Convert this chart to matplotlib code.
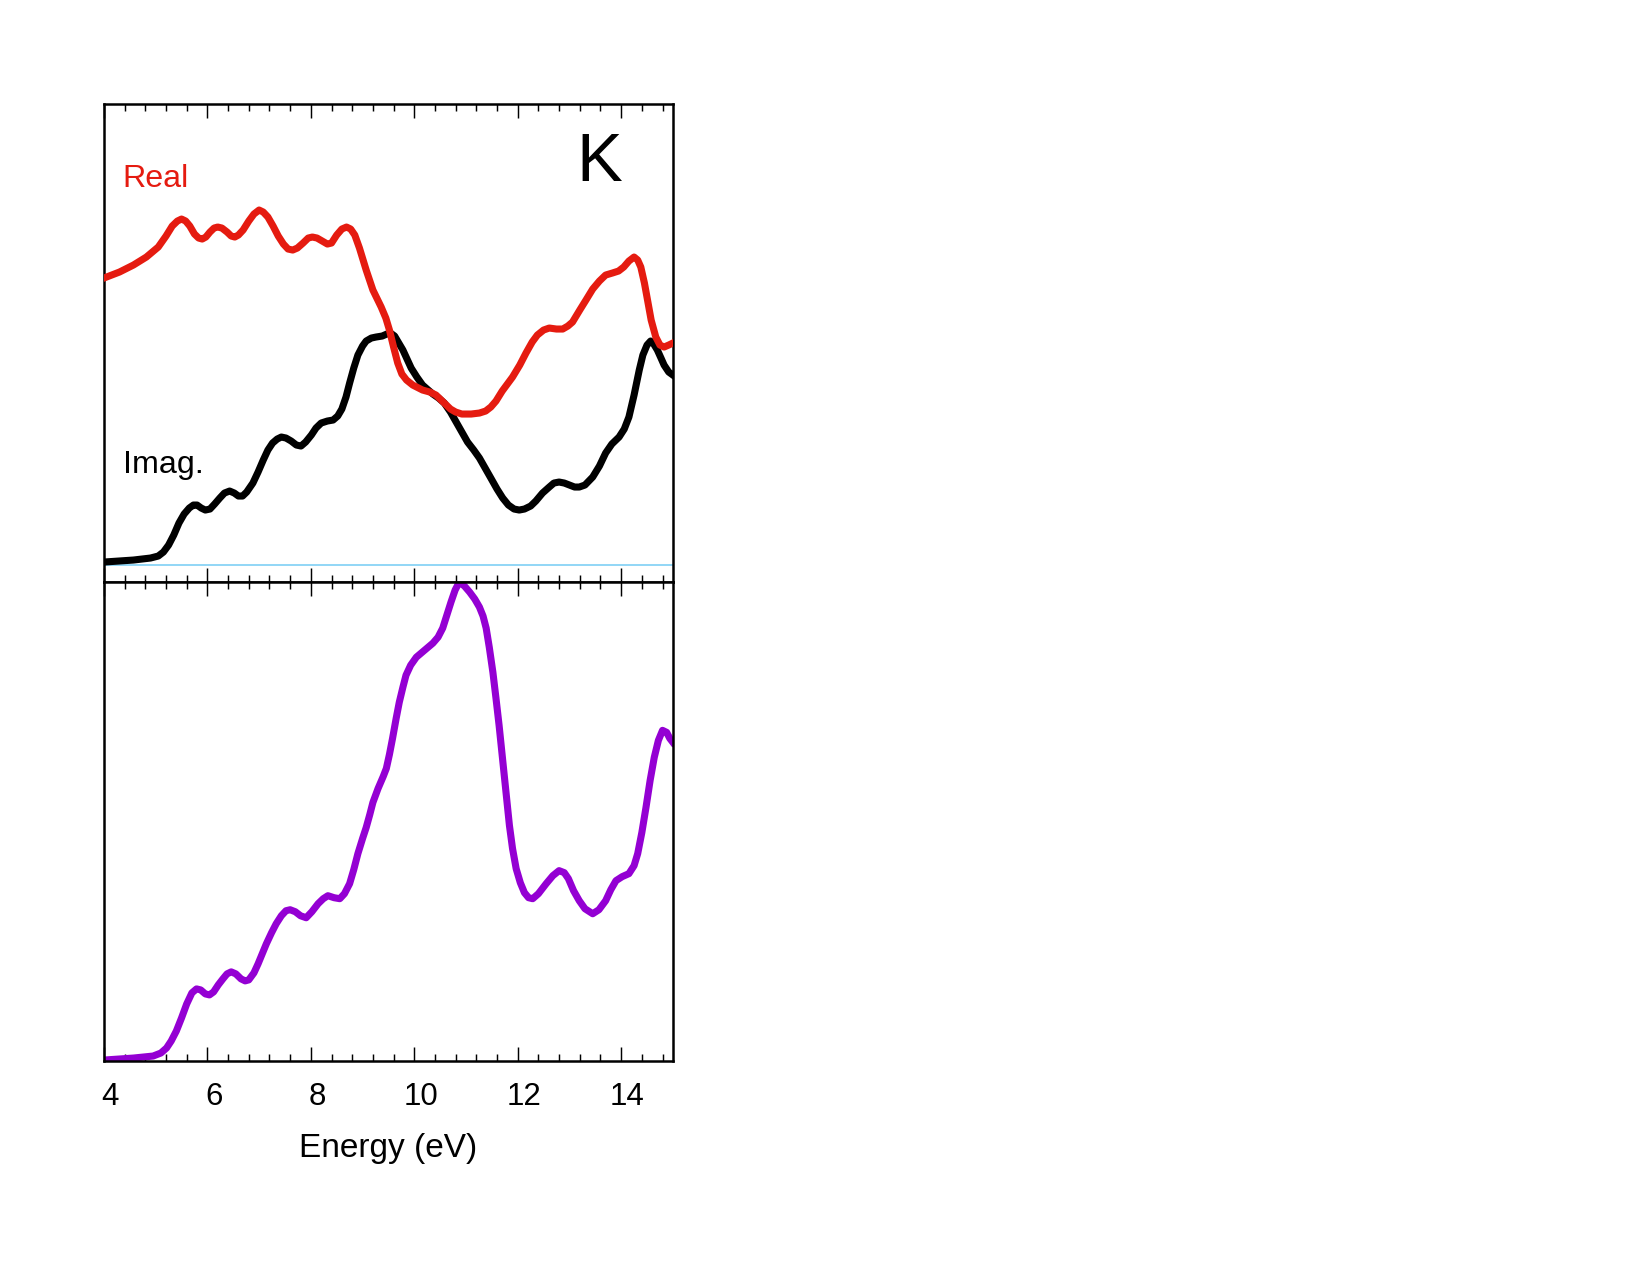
import matplotlib
matplotlib.use('Agg')
import matplotlib.pyplot as plt
from matplotlib.ticker import MultipleLocator
from matplotlib.transforms import ScaledTranslation

plt.rcParams['font.family'] = ['Liberation Sans', 'DejaVu Sans']

# curves (arbitrary units, energy in eV)
real_e = [4.0, 4.3, 4.57, 4.82, 5.05, 5.2, 5.32, 5.42, 5.50, 5.58, 5.66, 5.75, 5.83, 5.90,
          5.97, 6.05, 6.13, 6.20, 6.28, 6.38, 6.46, 6.53, 6.60, 6.69, 6.80, 6.90, 7.0, 7.08,
          7.17, 7.27, 7.37, 7.47, 7.56, 7.65, 7.74, 7.85, 7.95, 8.03, 8.12, 8.22, 8.32, 8.40,
          8.50, 8.60, 8.69, 8.77, 8.85, 8.94, 9.07, 9.20, 9.36, 9.45, 9.52, 9.60, 9.68, 9.76,
          9.85, 9.97, 10.16, 10.30, 10.42, 10.58, 10.70, 10.80, 10.92, 11.1, 11.26, 11.38,
          11.48, 11.58, 11.70, 11.90, 12.04, 12.16, 12.28, 12.38, 12.50, 12.61, 12.75, 12.87,
          12.97, 13.06, 13.2, 13.32, 13.45, 13.58, 13.70, 13.83, 13.95, 14.05, 14.15, 14.25,
          14.32, 14.38, 14.45, 14.51, 14.58, 14.67, 14.75, 14.83, 14.92, 15.0]
real_v = [2.87, 2.93, 3.00, 3.08, 3.18, 3.29, 3.39, 3.44, 3.46, 3.44, 3.39, 3.31, 3.27, 3.26,
          3.28, 3.33, 3.37, 3.38, 3.37, 3.33, 3.29, 3.28, 3.30, 3.35, 3.44, 3.51, 3.55, 3.53,
          3.48, 3.39, 3.29, 3.21, 3.16, 3.15, 3.17, 3.22, 3.27, 3.28, 3.27, 3.24, 3.21, 3.22,
          3.30, 3.36, 3.38, 3.36, 3.30, 3.17, 2.95, 2.75, 2.58, 2.47, 2.35, 2.18, 2.02, 1.91,
          1.85, 1.80, 1.75, 1.73, 1.70, 1.62, 1.56, 1.53, 1.51, 1.51, 1.52, 1.54,
          1.58, 1.64, 1.74, 1.88, 2.00, 2.12, 2.23, 2.30, 2.35, 2.37, 2.36, 2.36,
          2.39, 2.43, 2.55, 2.65, 2.76, 2.84, 2.90, 2.92, 2.94, 2.98, 3.04, 3.08,
          3.05, 2.98, 2.82, 2.65, 2.45, 2.28, 2.20, 2.18, 2.20, 2.22]

imag_e = [4.0, 4.57, 4.9, 5.05, 5.15, 5.25, 5.35, 5.45, 5.55, 5.65, 5.73, 5.80, 5.88, 5.96,
          6.05, 6.14, 6.24, 6.33, 6.43, 6.52, 6.60, 6.68, 6.76, 6.88, 6.98, 7.08, 7.17, 7.26,
          7.35, 7.43, 7.52, 7.62, 7.72, 7.81, 7.90, 8.01, 8.10, 8.20, 8.32, 8.43, 8.52, 8.60,
          8.68, 8.75, 8.83, 8.91, 9.0, 9.07, 9.17, 9.26, 9.38, 9.47, 9.54, 9.62, 9.70, 9.78,
          9.86, 9.94, 10.05, 10.16, 10.27, 10.36, 10.47, 10.58, 10.70, 10.81, 10.92, 11.03,
          11.15, 11.26, 11.37, 11.48, 11.60, 11.71, 11.82, 11.93, 12.03, 12.13, 12.25, 12.35,
          12.48, 12.61, 12.70, 12.80, 12.90, 13.0, 13.1, 13.19, 13.30, 13.45, 13.58, 13.70,
          13.82, 13.96, 14.06, 14.15, 14.25, 14.35, 14.42, 14.50, 14.57, 14.63, 14.70, 14.77,
          14.83, 14.92, 15.0]
imag_v = [0.03, 0.05, 0.07, 0.09, 0.13, 0.20, 0.30, 0.42, 0.51, 0.57, 0.60, 0.60, 0.57, 0.55,
          0.56, 0.61, 0.67, 0.72, 0.74, 0.72, 0.69, 0.69, 0.73, 0.82, 0.93, 1.05, 1.15, 1.22,
          1.26, 1.28, 1.27, 1.24, 1.20, 1.19, 1.23, 1.30, 1.37, 1.42, 1.44, 1.45, 1.49, 1.56,
          1.68, 1.82, 1.97, 2.10, 2.19, 2.24, 2.27, 2.28, 2.29, 2.31, 2.32, 2.29, 2.22, 2.15,
          2.06, 1.97, 1.88, 1.80, 1.75, 1.71, 1.67, 1.62, 1.53, 1.43, 1.33, 1.23,
          1.15, 1.07, 0.97, 0.87, 0.76, 0.67, 0.60, 0.56, 0.55, 0.56, 0.59, 0.64,
          0.72, 0.78, 0.82, 0.83, 0.82, 0.80, 0.78, 0.78, 0.80, 0.88, 0.99, 1.12,
          1.21, 1.28, 1.36, 1.48, 1.70, 1.95, 2.10, 2.20, 2.24, 2.21, 2.15, 2.07,
          2.00, 1.93, 1.90]

loss_e = [4.0, 4.57, 4.95, 5.10, 5.21, 5.30, 5.40, 5.50, 5.60, 5.70, 5.79, 5.87, 5.96, 6.04,
          6.12, 6.21, 6.30, 6.38, 6.46, 6.55, 6.65, 6.73, 6.80, 6.90, 6.98, 7.06, 7.14, 7.24,
          7.33, 7.43, 7.52, 7.60, 7.70, 7.80, 7.91, 8.02, 8.14, 8.24, 8.33, 8.45, 8.56, 8.65,
          8.75, 8.83, 8.91, 9.0, 9.07, 9.14, 9.20, 9.30, 9.40, 9.46, 9.52, 9.58, 9.65, 9.71,
          9.78, 9.84, 9.93, 10.04, 10.20, 10.36, 10.46, 10.55, 10.63, 10.71, 10.79, 10.87,
          10.97, 11.07, 11.17, 11.26, 11.33, 11.39, 11.45, 11.52, 11.58, 11.64, 11.69, 11.74,
          11.79, 11.84, 11.90, 11.97, 12.05, 12.13, 12.21, 12.29, 12.40, 12.55, 12.68, 12.80,
          12.90, 12.98, 13.08, 13.19, 13.30, 13.45, 13.57, 13.70, 13.80, 13.90, 14.02, 14.15,
          14.25, 14.32, 14.40, 14.48, 14.56, 14.64, 14.72, 14.80, 14.88, 14.94, 15.0]
loss_v = [0.01, 0.03, 0.05, 0.08, 0.13, 0.20, 0.30, 0.43, 0.57, 0.68, 0.72, 0.71, 0.67, 0.66,
          0.69, 0.76, 0.82, 0.87, 0.89, 0.87, 0.82, 0.80, 0.81, 0.88, 0.97, 1.07, 1.17, 1.28,
          1.37, 1.45, 1.50, 1.51, 1.49, 1.45, 1.43, 1.49, 1.57, 1.62, 1.65, 1.63, 1.62, 1.67,
          1.77, 1.91, 2.07, 2.22, 2.33, 2.46, 2.58, 2.72, 2.84, 2.92, 3.06, 3.22, 3.42, 3.58,
          3.73, 3.85, 3.95, 4.03, 4.10, 4.17, 4.23, 4.32, 4.45, 4.58, 4.70, 4.78,
          4.74, 4.68, 4.61, 4.53, 4.44, 4.32, 4.13, 3.88, 3.62, 3.35, 3.10, 2.85,
          2.60, 2.35, 2.12, 1.92, 1.78, 1.68, 1.63, 1.62, 1.67, 1.77, 1.85, 1.90,
          1.88, 1.82, 1.70, 1.60, 1.52, 1.47, 1.51, 1.60, 1.71, 1.80, 1.84, 1.87,
          1.95, 2.07, 2.28, 2.53, 2.80, 3.03, 3.20, 3.30, 3.28, 3.22, 3.18]

fig = plt.figure(figsize=(11, 8.5), dpi=150)
ax1 = fig.add_axes([0.063, 0.5435, 0.3448, 0.3749])
ax2 = fig.add_axes([0.063, 0.1678, 0.3448, 0.3757])

ax1.axhline(0, color='#7fcff5', lw=0.8, zorder=1)
ax1.plot(real_e, real_v, color='#e51b10', lw=3.4, solid_joinstyle='round', zorder=3)
ax1.plot(imag_e, imag_v, color='black', lw=3.4, solid_joinstyle='round', zorder=2)
ax2.plot(loss_e, loss_v, color='#9400d3', lw=3.4, solid_joinstyle='round')

ax1.set_ylim(-0.17, 4.61)
ax2.set_ylim(0, 4.78)

for ax in (ax1, ax2):
    ax.set_xlim(4, 15)
    ax.set_yticks([])
    ax.xaxis.set_major_locator(MultipleLocator(2))
    ax.xaxis.set_minor_locator(MultipleLocator(0.4))
    ax.tick_params(axis='x', which='both', direction='in', top=True, bottom=True,
                   width=0.7, color='black')
    ax.tick_params(axis='x', which='major', length=6.7, labelsize=15, pad=10)
    ax.tick_params(axis='x', which='minor', length=3.4)
    for s in ax.spines.values():
        s.set_linewidth(1.2)

ax1.tick_params(axis='x', labelbottom=False)
ax2.set_xlabel('Energy (eV)', fontsize=16, labelpad=10)

# labels in the reference sit a few pixels right of their ticks
shift = ScaledTranslation(3 / 72, 0, fig.dpi_scale_trans)
for lab in ax2.get_xticklabels():
    lab.set_transform(lab.get_transform() + shift)

ax1.text(0.033, 0.826, 'Real', color='#e51b10', fontsize=15.5, transform=ax1.transAxes)
ax1.text(0.033, 0.228, 'Imag.', color='black', fontsize=15.5, transform=ax1.transAxes)
ax1.text(0.83, 0.839, 'K', color='black', fontsize=33, transform=ax1.transAxes)

fig.savefig('out.png', dpi=150)
